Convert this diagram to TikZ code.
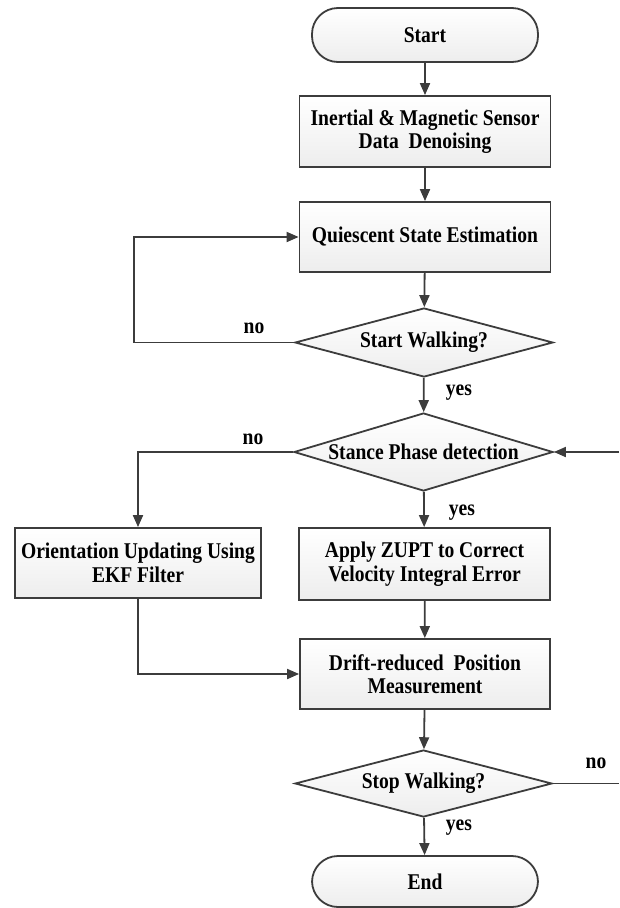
\documentclass[tikz,border=0pt]{standalone}
\usepackage{fontspec}
\setmainfont{Liberation Serif}[FakeStretch=0.87]
\usetikzlibrary{arrows.meta,shapes.geometric}
\definecolor{linec}{HTML}{3C3C3C}
\tikzset{
  base/.style={draw=linec,line width=1.8pt,top color=white,bottom color=gray!14,
    font=\bfseries\fontsize{22.5}{23.5}\selectfont,align=center,inner sep=0pt},
  procbox/.style={base,rectangle,minimum width=251pt,minimum height=71pt},
  termbox/.style={base,rectangle,rounded corners=26pt,minimum width=226pt,minimum height=54pt},
  decbox/.style={base,diamond,minimum width=258pt,minimum height=70pt},
  arr/.style={draw=linec,line width=1.8pt,-{Triangle[length=12pt,width=10pt]}},
  ln/.style={draw=linec,line width=1.8pt},
  lab/.style={font=\bfseries\fontsize{22.5}{23.5}\selectfont,inner sep=0pt}
}
\begin{document}
\begin{tikzpicture}[x=1pt,y=-1pt]
\useasboundingbox (0,0) rectangle (619,908);
\node[termbox] (start) at (425,35) {Start};
\node[procbox] (imd) at (425,131.5) {Inertial \& Magnetic Sensor\\Data\ \ Denoising};
\node[procbox,minimum height=70pt] (qse) at (425,237) {Quiescent State Estimation};
\node[decbox,minimum height=69pt] (sw) at (424,342.5) {\makebox[0pt]{Start Walking?}};
\node[decbox,minimum width=259pt,minimum height=78pt] (spd) at (423.5,452) {\makebox[0pt]{Stance Phase detection}};
\node[procbox,minimum width=246pt,minimum height=70pt] (ori) at (138,563) {Orientation Updating Using\\EKF Filter};
\node[procbox,minimum height=72pt] (zupt) at (424.5,564) {Apply ZUPT to Correct\\Velocity Integral Error};
\node[procbox,minimum width=250pt,minimum height=70pt] (drift) at (425,674) {Drift-reduced\ \ Position\\Measurement};
\node[decbox,minimum width=257pt,minimum height=67pt] (stop) at (423.5,783.5) {\makebox[0pt]{Stop Walking?}};
\node[termbox,minimum height=51pt] (end) at (425,881.5) {End};

\coordinate (l1) at (134,342.5);
\coordinate (r1) at (619,452);
\coordinate (r2) at (619,783.5);

\draw[arr] (start) -- (imd);
\draw[arr] (imd) -- (qse);
\draw[arr] (qse) -- (sw);
\draw[arr] (sw.west) -- (l1) |- (qse.west);
\draw[arr] (sw) -- (spd);
\draw[arr] (spd.west) -| (ori.north);
\draw[arr] (spd) -- (zupt);
\draw[arr] (r1) -- (spd.east);
\draw[arr] (zupt) -- (drift);
\draw[arr] (ori.south) |- (drift.west);
\draw[arr] (drift) -- (stop);
\draw[arr] (stop) -- (end);
\draw[ln] (stop.east) -- (r2);

\node[lab] (no1) at (254,328) {no};
\node[lab] (yes1) at (459,393) {yes};
\node[lab] (no2) at (253,439) {no};
\node[lab] (yes2) at (462,513) {yes};
\node[lab] (no3) at (596,763) {no};
\node[lab] (yes3) at (459,828) {yes};
\end{tikzpicture}
\end{document}
